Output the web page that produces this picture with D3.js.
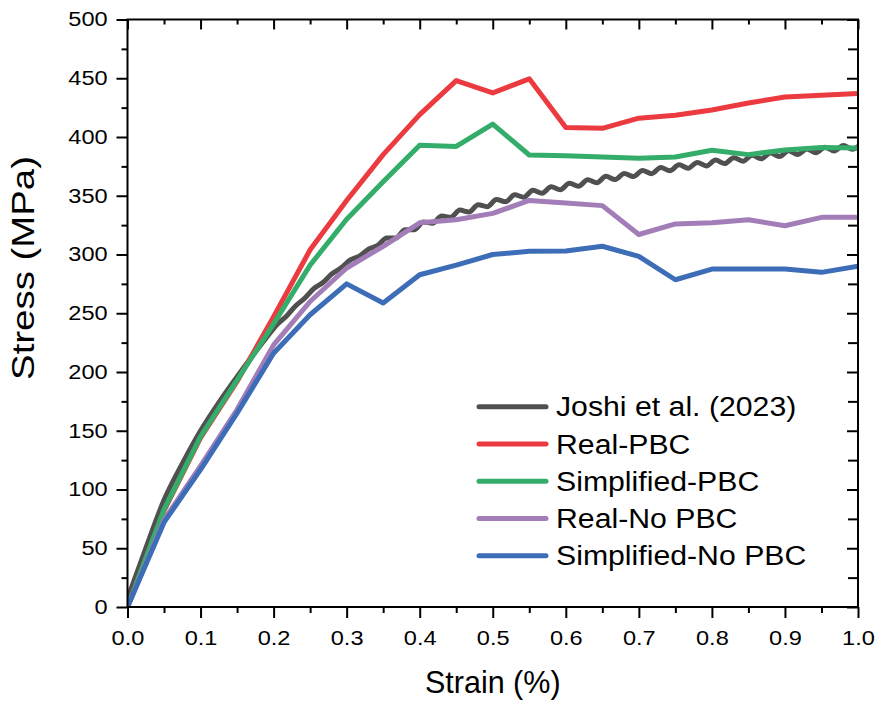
<!DOCTYPE html>
<html>
<head>
<meta charset="utf-8">
<script src="https://cdn.jsdelivr.net/npm/d3@7"></script>
<style>
  html, body { margin: 0; padding: 0; background: #fff; }
  svg { display: block; }
  text { font-family: "Liberation Sans", Arial, sans-serif; fill: #000; }
</style>
</head>
<body>
<svg id="chart" width="876" height="701"></svg>
<script>
// ---------- data ----------
const strain = [0, 0.05, 0.1, 0.15, 0.2, 0.25, 0.3, 0.35, 0.4, 0.45, 0.5,
                0.55, 0.6, 0.65, 0.7, 0.75, 0.8, 0.85, 0.9, 0.95, 1.0];
const realPBC = [0, 82, 144, 192, 247, 304, 346, 385, 419, 448, 437.5,
                 449.5, 408, 407.4, 416, 418.5, 423, 429, 434, 435.5, 437];
const simplifiedPBC = [0, 83, 145, 193, 241, 291, 330, 362, 393, 392, 411,
                       384.7, 384, 383, 382, 383, 388.7, 385, 389, 391, 390.7];
const realNoPBC = [0, 74, 120, 168, 223, 260, 288.5, 307, 327, 329.6, 335,
                   346, 343.8, 341.6, 317, 326, 327, 329.6, 324.5, 331.6, 331.6];
const simplifiedNoPBC = [0, 72, 117, 165, 216, 248.7, 275, 258.7, 282.8, 291, 300,
                         302.7, 303, 307, 298.4, 278.5, 287.6, 287.6, 287.6, 284.8, 290];

// Joshi et al. (2023) reference curve (wavy, read densely)
const joshiStrain = [0, 0.025, 0.05, 0.075, 0.1, 0.125, 0.15, 0.175, 0.2,
  0.205, 0.2175, 0.23, 0.2425, 0.255, 0.2675, 0.28, 0.2925, 0.305, 0.3175, 0.33, 0.3425,
  0.355, 0.3675, 0.38, 0.3925, 0.405, 0.4175, 0.43, 0.4425, 0.455, 0.4675, 0.48, 0.4925,
  0.505, 0.5175, 0.53, 0.5425, 0.555, 0.5675, 0.58, 0.5925, 0.605, 0.6175, 0.63, 0.6425,
  0.655, 0.6675, 0.68, 0.6925, 0.705, 0.7175, 0.73, 0.7425, 0.755, 0.7675, 0.78, 0.7925,
  0.805, 0.8175, 0.83, 0.8425, 0.855, 0.8675, 0.88, 0.8925, 0.905, 0.9175, 0.93, 0.9425,
  0.955, 0.9675, 0.98, 0.9925, 1.0];
const joshiStress = [7, 50, 91, 122, 150, 174, 196, 217, 237,
  240.6, 247.4, 256.2, 262.8, 271.0, 276.2, 283.6, 288.7, 295.4, 298.7, 304.6, 307.7,
  314.0, 314.1, 321.0, 321.1, 327.7, 326.6, 332.8, 331.6, 337.8, 336.2, 342.4, 340.7,
  346.8, 344.8, 350.8, 348.8, 354.6, 352.1, 357.6, 355.1, 360.6, 358.1, 363.6, 361.1,
  366.5, 363.8, 369.0, 366.3, 371.5, 368.8, 374.0, 371.3, 376.4, 373.4, 378.4, 375.4,
  380.4, 377.4, 382.4, 379.4, 384.4, 381.4, 386.4, 383.4, 388.3, 385.1, 389.8, 386.6,
  391.3, 388.1, 392.8, 389.6, 392];

const seriesNames = ["Joshi et al. (2023)", "Real-PBC", "Simplified-PBC", "Real-No PBC", "Simplified-No PBC"];
const seriesColors = ["#505050", "#ec3b40", "#34ad6a", "#a37db8", "#3d6db7"];

const xTicks = [0, 0.1, 0.2, 0.3, 0.4, 0.5, 0.6, 0.7, 0.8, 0.9, 1.0];
const yTicks = [0, 50, 100, 150, 200, 250, 300, 350, 400, 450, 500];
const xMinorTicks = [0.05, 0.15, 0.25, 0.35, 0.45, 0.55, 0.65, 0.75, 0.85, 0.95];
const yMinorTicks = [25, 75, 125, 175, 225, 275, 325, 375, 425, 475];

// ---------- layout ----------
const svg = d3.select("#chart");
const x = d3.scaleLinear().domain([0, 1]).range([127.5, 858]);
const y = d3.scaleLinear().domain([0, 500]).range([607, 19.5]);
const FONT = '"Liberation Sans", Arial, sans-serif';
const TICK_SX = 1.21;

const data = [
  joshiStrain.map((s, i) => [s, joshiStress[i]]),
  strain.map((s, i) => [s, realPBC[i]]),
  strain.map((s, i) => [s, simplifiedPBC[i]]),
  strain.map((s, i) => [s, realNoPBC[i]]),
  strain.map((s, i) => [s, simplifiedNoPBC[i]])
];

svg.append("defs").append("clipPath").attr("id", "plotclip")
  .append("rect")
  .attr("x", x(0)).attr("y", y(500))
  .attr("width", x(1) - x(0)).attr("height", y(0) - y(500));

const lineLinear = d3.line().x(d => x(d[0])).y(d => y(d[1]));
const lineSmooth = d3.line().x(d => x(d[0])).y(d => y(d[1])).curve(d3.curveMonotoneX);

const g = svg.append("g").attr("clip-path", "url(#plotclip)");
[0, 1, 2, 3, 4].forEach(i => {
  g.append("path")
    .datum(data[i])
    .attr("fill", "none")
    .attr("stroke", seriesColors[i])
    .attr("stroke-width", 5)
    .attr("stroke-linejoin", "round")
    .attr("stroke-linecap", "round")
    .attr("d", i === 0 ? lineSmooth : lineLinear);
});

// ---------- axes ----------
function styleAxis(sel) {
  sel.select(".domain").remove();
  sel.selectAll("line").attr("stroke", "#000").attr("stroke-width", 2);
  sel.selectAll("text").style("font-family", FONT)
    .style("font-size", "19.5px").attr("fill", "#000");
}

// bottom
svg.append("g").attr("transform", `translate(0,${y(0)})`)
  .call(d3.axisBottom(x).tickValues(xTicks).tickFormat(d3.format(".1f")).tickSize(11).tickPadding(13.5))
  .call(styleAxis)
  .call(s => s.selectAll("text").attr("dy", "0.71em").attr("transform", `scale(${TICK_SX},1)`));
svg.append("g").attr("transform", `translate(0,${y(0)})`)
  .call(d3.axisBottom(x).tickValues(xMinorTicks).tickFormat("").tickSize(6))
  .call(styleAxis);
// left
svg.append("g").attr("transform", `translate(${x(0)},0)`)
  .call(d3.axisLeft(y).tickValues(yTicks).tickFormat(d3.format("d")).tickSize(11))
  .call(styleAxis)
  .call(s => s.selectAll("text").attr("x", -19.8 / TICK_SX).attr("transform", `scale(${TICK_SX},1)`));
svg.append("g").attr("transform", `translate(${x(0)},0)`)
  .call(d3.axisLeft(y).tickValues(yMinorTicks).tickFormat("").tickSize(6))
  .call(styleAxis);
// top (inward)
svg.append("g").attr("transform", `translate(0,${y(500)})`)
  .call(d3.axisBottom(x).tickValues(xTicks).tickFormat("").tickSize(10))
  .call(styleAxis);
svg.append("g").attr("transform", `translate(0,${y(500)})`)
  .call(d3.axisBottom(x).tickValues(xMinorTicks).tickFormat("").tickSize(5))
  .call(styleAxis);
// right (inward)
svg.append("g").attr("transform", `translate(${x(1)},0)`)
  .call(d3.axisLeft(y).tickValues(yTicks).tickFormat("").tickSize(11))
  .call(styleAxis);
svg.append("g").attr("transform", `translate(${x(1)},0)`)
  .call(d3.axisLeft(y).tickValues(yMinorTicks).tickFormat("").tickSize(10))
  .call(styleAxis);

// frame
svg.append("rect")
  .attr("x", x(0)).attr("y", y(500))
  .attr("width", x(1) - x(0)).attr("height", y(0) - y(500))
  .attr("fill", "none").attr("stroke", "#000").attr("stroke-width", 2);

// axis titles
svg.append("text")
  .attr("x", (x(0) + x(1)) / 2).attr("y", 693)
  .attr("text-anchor", "middle")
  .style("font-size", "30.5px")
  .text("Strain (%)");
svg.append("text")
  .attr("transform", `translate(34,268) rotate(-90) scale(1.2,1)`)
  .attr("text-anchor", "middle")
  .style("font-size", "32px")
  .text("Stress (MPa)");

// ---------- legend ----------
const legend = svg.append("g");
seriesNames.forEach((name, i) => {
  const ly = 406.7 + i * 37.25;
  legend.append("line")
    .attr("x1", 479).attr("x2", 546)
    .attr("y1", ly).attr("y2", ly)
    .attr("stroke", seriesColors[i]).attr("stroke-width", 5)
    .attr("stroke-linecap", "round");
  legend.append("text")
    .attr("transform", `translate(556,${ly}) scale(1.12,1)`)
    .attr("dy", "0.36em")
    .style("font-size", "27px")
    .text(name);
});
</script>
</body>
</html>
